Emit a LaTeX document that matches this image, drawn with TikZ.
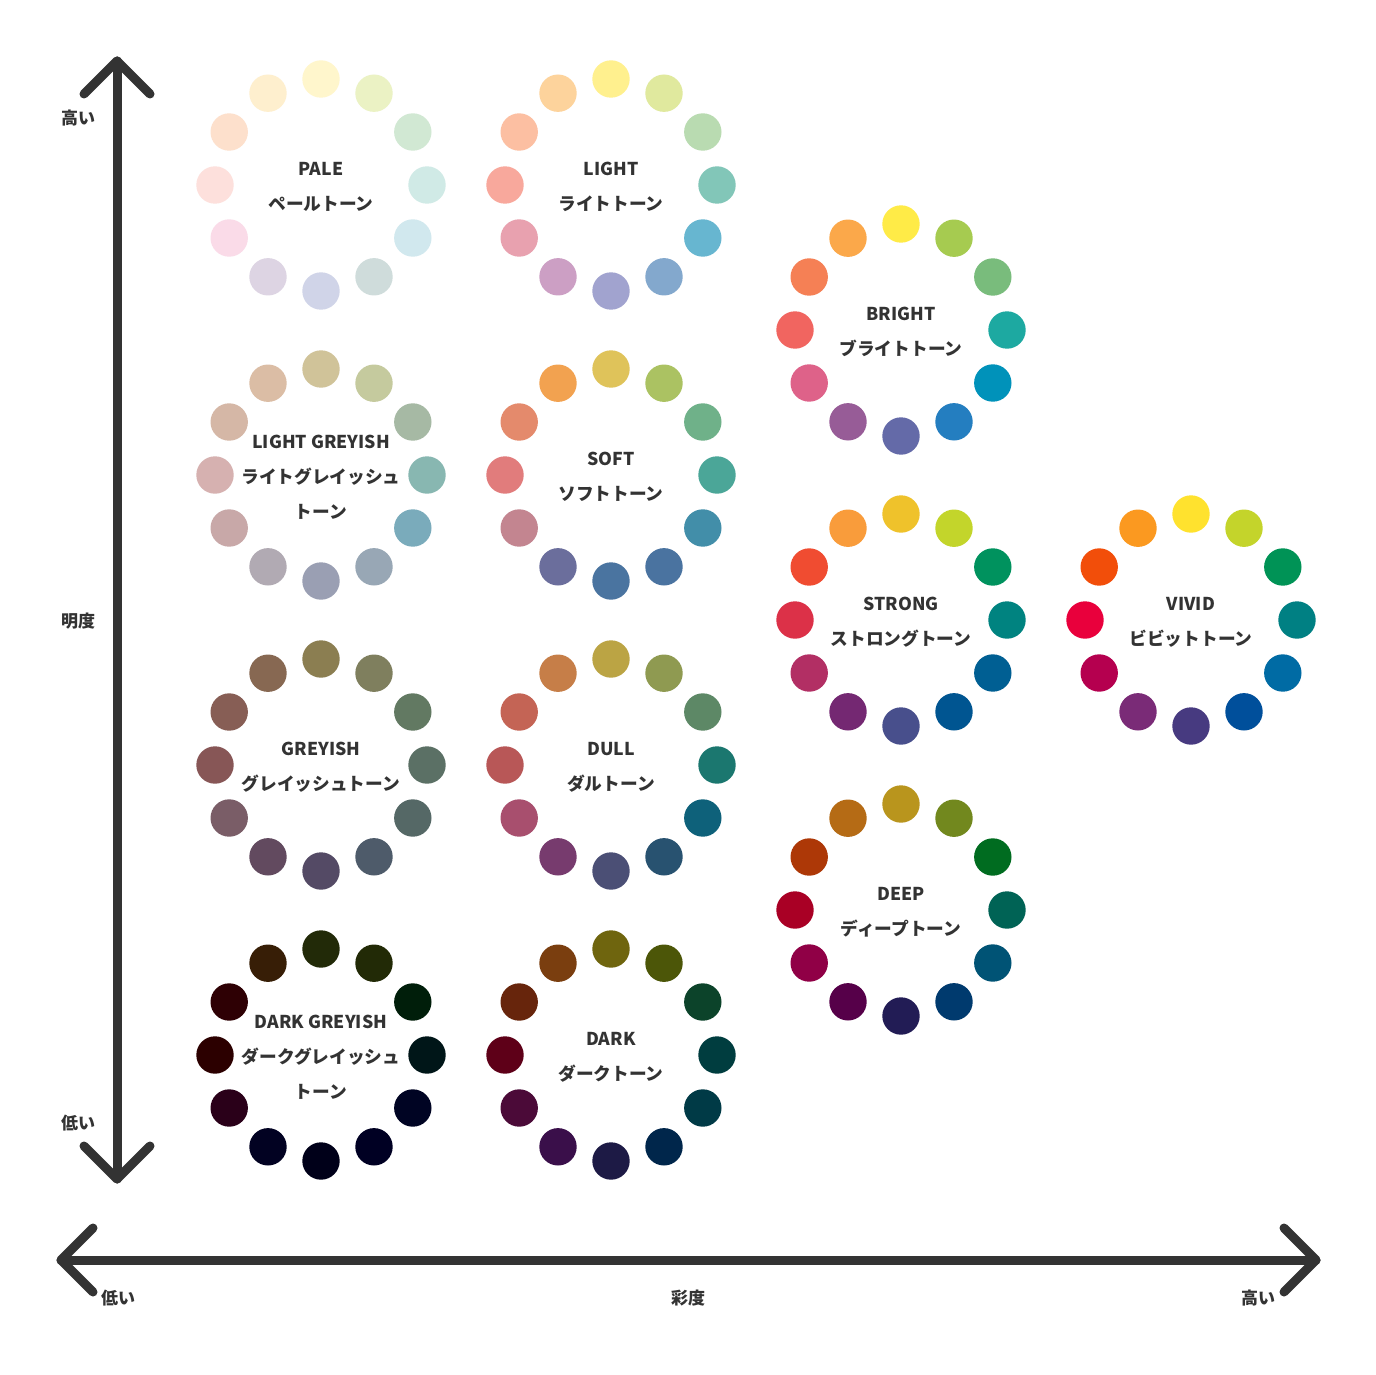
\documentclass[tikz,border=0pt]{standalone}
\usepackage{fontspec}
\setmainfont{Noto Sans CJK JP}
\definecolor{ink}{HTML}{333333}
\tikzset{
  dot/.style={circle, inner sep=0pt, minimum size=37.4pt, draw=none},
  wlabel/.style={text=ink, font=\bfseries\fontsize{17.7}{35}\selectfont, align=center, inner sep=0pt},
  axis/.style={draw=ink, line width=9pt, line cap=round, line join=round},
  axlabel/.style={text=ink, font=\bfseries\fontsize{17}{20}\selectfont, inner sep=0pt}
}
\newcommand\tonewheel[5]{%
  \foreach \c [count=\i from 0] in {#4} {
    \edef\tmpcol{\noexpand\definecolor{wc}{HTML}{\c}}\tmpcol
    \node[dot, fill=wc] (#1-\i) at ({#2+106*cos(90-30*\i)},{#3-106*sin(90-30*\i)}) {};
  }
  \node[wlabel] (#1) at (#2,#3+2) {#5};
}
\begin{document}
\begin{tikzpicture}[x=1pt,y=-1pt]
\useasboundingbox (0,0) rectangle (1376,1375);
\fill[white] (0,0) rectangle (1376,1375);

% axes
\coordinate (ytop) at (117,61);
\coordinate (ybot) at (117,1179);
\coordinate (xleft) at (61,1260);
\coordinate (xright) at (1316,1260);
\draw[axis] (ybot) -- (ytop);
\draw[axis] ([shift={(-33,33)}]ytop) -- (ytop) -- ([shift={(33,33)}]ytop);
\draw[axis] ([shift={(-33,-33)}]ybot) -- (ybot) -- ([shift={(33,-33)}]ybot);
\draw[axis] (xleft) -- (xright);
\draw[axis] ([shift={(32,-32)}]xleft) -- (xleft) -- ([shift={(32,32)}]xleft);
\draw[axis] ([shift={(-32,-32)}]xright) -- (xright) -- ([shift={(-32,32)}]xright);

% axis labels
\node[axlabel] (hiY) at (78,118) {高い};
\node[axlabel] (midY) at (78,621) {明度};
\node[axlabel] (loY) at (78,1123) {低い};
\node[axlabel] (loX) at (118,1298) {低い};
\node[axlabel] (midX) at (688,1298) {彩度};
\node[axlabel] (hiX) at (1258,1298) {高い};

% wheels: order top, then clockwise
\tonewheel{pale}{321}{185}{FFF6CC,EBF2C4,D1E8D3,D0EAE6,D1E8EE,CFDCDB,D0D4E8,DDD4E3,FADBE8,FDE0DC,FDE0CC,FEEFCE}{PALE\\ペールトーン}
\tonewheel{light}{611}{185}{FFF08E,E0E99E,B9DBB1,82C6B8,67B6D0,83A8CD,A1A3CF,CC9FC4,E8A1AF,F8A89C,FCBFA2,FDD39C}{LIGHT\\ライトトーン}
\tonewheel{bright}{901}{330}{FFEB47,A6CB50,79BC7C,1DA9A1,0092BA,247EC0,646AA8,975C97,DE6289,F16560,F58055,FBA84A}{BRIGHT\\ブライトトーン}
\tonewheel{lgrey}{321}{475}{D0C399,C5CA9E,A6B9A4,88B7B1,7AABBB,98A7B5,9A9FB3,B1AAB3,C8A8A8,D6B1B0,D5B7A6,DBBDA5}{LIGHT GREYISH\\ライトグレイッシュ\\トーン}
\tonewheel{soft}{611}{475}{DFC35A,ABC262,6FB189,4BA698,428EA9,4A73A0,4A74A0,6B6E9C,C38590,E17C7C,E48A6C,F2A250}{SOFT\\ソフトトーン}
\tonewheel{strong}{901}{620}{EFC22B,C3D52B,00925E,008380,005F93,005591,484F8C,742872,B22F64,DC3148,F04C31,F99C3B}{STRONG\\ストロングトーン}
\tonewheel{vivid}{1191}{620}{FFE22E,C4D42B,009356,008083,006BA4,004F9B,473A80,7A2B77,B5004F,E9003C,F24E0A,FB9920}{VIVID\\ビビットトーン}
\tonewheel{greyish}{321}{765}{8B7E51,7F7F5E,627962,5B7065,556866,4E5B6A,544A65,624A5F,7A5D67,875656,875E55,876852}{GREYISH\\グレイッシュトーン}
\tonewheel{dull}{611}{765}{BBA444,8F9A51,5D8866,1B776F,0E617A,285270,4B4F75,773B6E,A84F6E,B85757,C46455,C67E48}{DULL\\ダルトーン}
\tonewheel{deep}{901}{910}{B9951D,72881E,006C20,006355,005375,003A6E,221C55,560049,900046,A90025,AD3807,B56B15}{DEEP\\ディープトーン}
\tonewheel{dgrey}{321}{1055}{222A08,222A06,001E0A,001618,000423,000023,000019,020222,2A0019,2C0000,2E0004,371E06}{DARK GREYISH\\ダークグレイッシュ\\トーン}
\tonewheel{dark}{611}{1055}{6F650E,4C5608,0C432A,003D3F,003A46,00264B,1D1A45,3A0F4A,4B0A38,5E0018,67250C,7A3E0F}{DARK\\ダークトーン}
\end{tikzpicture}
\end{document}
